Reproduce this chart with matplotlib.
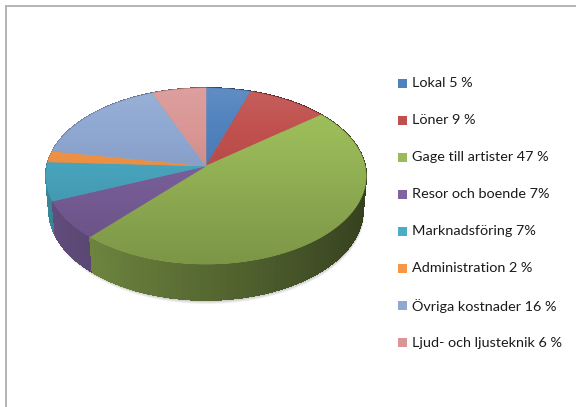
import numpy as np
import matplotlib
matplotlib.use('Agg')
import matplotlib.pyplot as plt
from matplotlib.patches import Polygon, Rectangle
from matplotlib.collections import PolyCollection
from matplotlib.colors import to_rgb

# data
labels = ['Lokal 5 %', 'Löner 9 %', 'Gage till artister 47 %', 'Resor och boende 7%',
          'Marknadsföring 7%', 'Administration 2 %', 'Övriga kostnader 16 %',
          'Ljud- och ljusteknik 6 %']
values = [5, 9, 47, 7, 7, 2, 16, 6]
colors = ['#4F81BD', '#C0504D', '#9BBB59', '#8064A2', '#4BACC6', '#F79646',
          '#8FA8D2', '#D99694']

# 3d pie projection (pixel coords, y down)
cx, cy = 206, 166
scale = 1174.0
D = 7.38
phi = np.radians(33.1)
H = 0.259

def proj(theta, h):
    X = np.sin(theta)
    Z = np.cos(theta)
    depth = D + Z*np.cos(phi) - h*np.sin(phi)
    up = Z*np.sin(phi) + h*np.cos(phi)
    return cx + scale*X/depth, cy - scale*up/depth

fig = plt.figure(figsize=(5.76, 4.07), dpi=100)
ax = fig.add_axes([0, 0, 1, 1])
ax.set_xlim(0, 576)
ax.set_ylim(407, 0)
ax.axis('off')

frac = np.array(values, dtype=float) / sum(values)
edges = np.concatenate([[0], np.cumsum(frac)]) * 2*np.pi

# faint shadow under the pie
tt = np.linspace(0, 2*np.pi, 400)
for k, a in zip([4, 3, 2], [0.05, 0.06, 0.07]):
    sx, sy = proj(tt, -H)
    ax.add_patch(Polygon(list(zip(sx + 1, sy + k)), closed=True, facecolor='black',
                         edgecolor='none', alpha=a, zorder=0))

# side walls, far to near
quads, qcols, qz = [], [], []
for i in range(len(values)):
    n = max(2, int(np.degrees(edges[i+1]-edges[i]) / 2))
    th = np.linspace(edges[i], edges[i+1], n+1)
    base = np.array(to_rgb(colors[i]))
    for t0, t1 in zip(th[:-1], th[1:]):
        tm = 0.5*(t0+t1)
        x0, y0 = proj(t0, 0); x1, y1 = proj(t1, 0)
        x2, y2 = proj(t1, -H); x3, y3 = proj(t0, -H)
        quads.append([(x0, y0), (x1, y1), (x2, y2), (x3, y3)])
        f = 0.56 - 0.22*np.sin(tm)
        qcols.append(np.clip(base*f, 0, 1))
        qz.append(np.cos(tm))
order = np.argsort(qz)[::-1]
pc = PolyCollection([quads[k] for k in order], facecolors=[qcols[k] for k in order],
                    edgecolors=[qcols[k] for k in order], linewidths=0.6,
                    antialiaseds=False, zorder=1)
ax.add_collection(pc)

# top face
for i in range(len(values)):
    th = np.linspace(edges[i], edges[i+1], 120)
    xs, ys = proj(th, 0)
    pts = [(cx, cy)] + list(zip(xs, ys))
    ax.add_patch(Polygon(pts, closed=True, facecolor=colors[i], edgecolor=colors[i],
                         lw=0.4, zorder=2))

# soft vertical gradient over top face
rx, ry = proj(tt, 0)
rim = Polygon(list(zip(rx, ry)), closed=True, transform=ax.transData, facecolor='none', edgecolor='none')
ax.add_patch(rim)
g = np.linspace(0, 1, 200)[:, None]
grad = np.zeros((200, 2, 4))
grad[..., :3] = np.where(g[..., None] < 0.25, 1.0, 0.0)
grad[..., 3] = np.where(g < 0.25, 0.10*(0.25-g)/0.25, 0.20*(g-0.25)/0.75)
im = ax.imshow(grad, extent=(rx.min(), rx.max(), ry.max(), ry.min()), aspect='auto', zorder=3)
im.set_clip_path(rim)

# legend
for i, lab in enumerate(labels):
    yc = 83 + i*37.1
    ax.add_patch(Rectangle((398, yc-4.5), 9, 9, facecolor=colors[i], edgecolor='none', zorder=4))
    ax.text(412, yc, lab, va='center', ha='left', fontsize=10.4, family='Lato', color='#1a1a1a', zorder=4)

# chart border (top and left visible)
ax.plot([6, 576], [6, 6], color='#b4b4b4', lw=1.4, zorder=5)
ax.plot([6, 6], [6, 407], color='#b4b4b4', lw=1.4, zorder=5)

fig.savefig('out.png', dpi=100)
